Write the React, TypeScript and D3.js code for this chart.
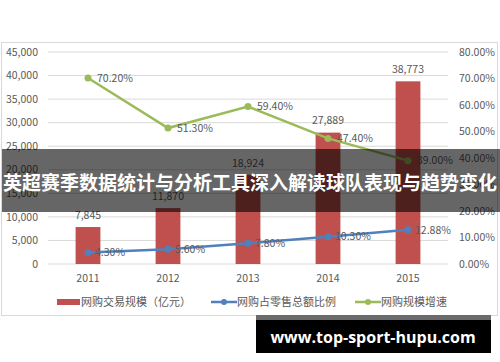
import React from "react";
import * as d3 from "d3";

const years = ["2011", "2012", "2013", "2014", "2015"];
const tradeScale = [7845, 11870, 18924, 27889, 38773];
const retailShare = [4.3, 5.6, 7.8, 10.3, 12.88];
const growthRate = [70.2, 51.3, 59.4, 47.4, 39.0];
const leftTicks = [0, 5000, 10000, 15000, 20000, 25000, 30000, 35000, 40000, 45000];
const rightTicks = [0, 10, 20, 30, 40, 50, 60, 70, 80];
const legendLabels = ["网购交易规模（亿元）", "网购占零售总额比例", "网购规模增速"];
const bannerTitle = "英超赛季数据统计与分析工具深入解读球队表现与趋势变化";
const siteUrl = "www.top-sport-hupu.com";

const RED = "#c0504d";
const BLUE = "#4f81bd";
const GREEN = "#9bbb59";
const TXT = "#595959";
const FONT = "'Noto Sans CJK SC', 'Noto Sans', sans-serif";

export default function App() {
  const W = 500, H = 362;
  const x = d3.scaleBand<string>().domain(years).range([48, 448]).paddingInner(0.69).paddingOuter(0.345);
  const yL = d3.scaleLinear().domain([0, 45000]).range([264, 52]);
  const yR = d3.scaleLinear().domain([0, 80]).range([264, 52]);
  const cx = (d: string) => (x(d) as number) + x.bandwidth() / 2;
  const fmt = d3.format(",");
  const bluePath = d3.line<number>().x((_, i) => cx(years[i])).y((v) => yR(v))(retailShare) as string;
  const greenPath = d3.line<number>().x((_, i) => cx(years[i])).y((v) => yR(v))(growthRate) as string;

  return (
    <svg width={W} height={H} style={{ position: "absolute", left: 0, top: 0, background: "#fff" }} fontFamily={FONT}>
      <rect x={1.5} y={42.5} width={496} height={273} fill="#fff" stroke="#d9d9d9" />
      {leftTicks.map((t) => (
        <line key={t} x1={48} x2={448} y1={yL(t)} y2={yL(t)} stroke="#d9d9d9" strokeWidth={1} />
      ))}
      {leftTicks.map((t) => (
        <text key={"l" + t} x={38} y={yL(t)} dy="0.35em" textAnchor="end" fontSize={10.5} fill={TXT}>{fmt(t)}</text>
      ))}
      {rightTicks.map((t) => (
        <text key={"r" + t} x={459} y={yR(t)} dy="0.35em" textAnchor="start" fontSize={10.5} fill={TXT}>{t.toFixed(2) + "%"}</text>
      ))}
      {years.map((y) => (
        <text key={"x" + y} x={cx(y)} y={278} dy="0.35em" textAnchor="middle" fontSize={10.5} fill={TXT}>{y}</text>
      ))}
      {tradeScale.map((v, i) => (
        <rect key={"b" + i} x={x(years[i])} y={yL(v)} width={x.bandwidth()} height={yL(0) - yL(v)} fill={RED} />
      ))}
      {tradeScale.map((v, i) => (
        <text key={"bl" + i} x={cx(years[i])} y={yL(v) - 12} dy="0.35em" textAnchor="middle" fontSize={10.5} fill={TXT}>{fmt(v)}</text>
      ))}
      <path d={greenPath} fill="none" stroke={GREEN} strokeWidth={2.5} />
      {growthRate.map((v, i) => (
        <circle key={"gc" + i} cx={cx(years[i])} cy={yR(v)} r={3.5} fill={GREEN} />
      ))}
      {growthRate.map((v, i) => (
        <text key={"gl" + i} x={cx(years[i]) + 9} y={yR(v)} dy="0.35em" fontSize={10.5} fill={TXT}>{v.toFixed(2) + "%"}</text>
      ))}
      <path d={bluePath} fill="none" stroke={BLUE} strokeWidth={2.5} />
      {retailShare.map((v, i) => (
        <circle key={"bc" + i} cx={cx(years[i])} cy={yR(v)} r={3.5} fill={BLUE} />
      ))}
      {retailShare.map((v, i) => (
        <text key={"bll" + i} x={cx(years[i]) + 7} y={yR(v)} dy="0.35em" fontSize={10.5} fill={TXT}>{v.toFixed(2) + "%"}</text>
      ))}
      {/* legend */}
      <rect x={57} y={299} width={23} height={6} fill={RED} />
      <text x={81} y={302} dy="0.35em" fontSize={11} fill={TXT}>{legendLabels[0]}</text>
      <line x1={211} x2={237} y1={302} y2={302} stroke={BLUE} strokeWidth={2.5} />
      <circle cx={224} cy={302} r={3} fill={BLUE} />
      <text x={237} y={302} dy="0.35em" fontSize={11} fill={TXT}>{legendLabels[1]}</text>
      <line x1={355} x2={381} y1={302} y2={302} stroke={GREEN} strokeWidth={2.5} />
      <circle cx={368} cy={302} r={3} fill={GREEN} />
      <text x={381} y={302} dy="0.35em" fontSize={11} fill={TXT}>{legendLabels[2]}</text>
      {/* banner */}
      <rect x={2} y={149} width={498} height={63} fill="#000" opacity={0.6} />
      <text x={250} y={183} dy="0.35em" textAnchor="middle" fontSize={19} fontWeight="bold" fill="#fff">{bannerTitle}</text>
      {/* url box */}
      <rect x={256} y={315} width={235} height={5} fill="#6b6b6b" />
      <rect x={256} y={320} width={235} height={33} fill="#000" />
      <text x={373} y={337} dy="0.35em" textAnchor="middle" fontSize={16} fontWeight="bold" fill="#fff" fontFamily="'Open Sans', 'Noto Sans', sans-serif">{siteUrl}</text>
    </svg>
  );
}
